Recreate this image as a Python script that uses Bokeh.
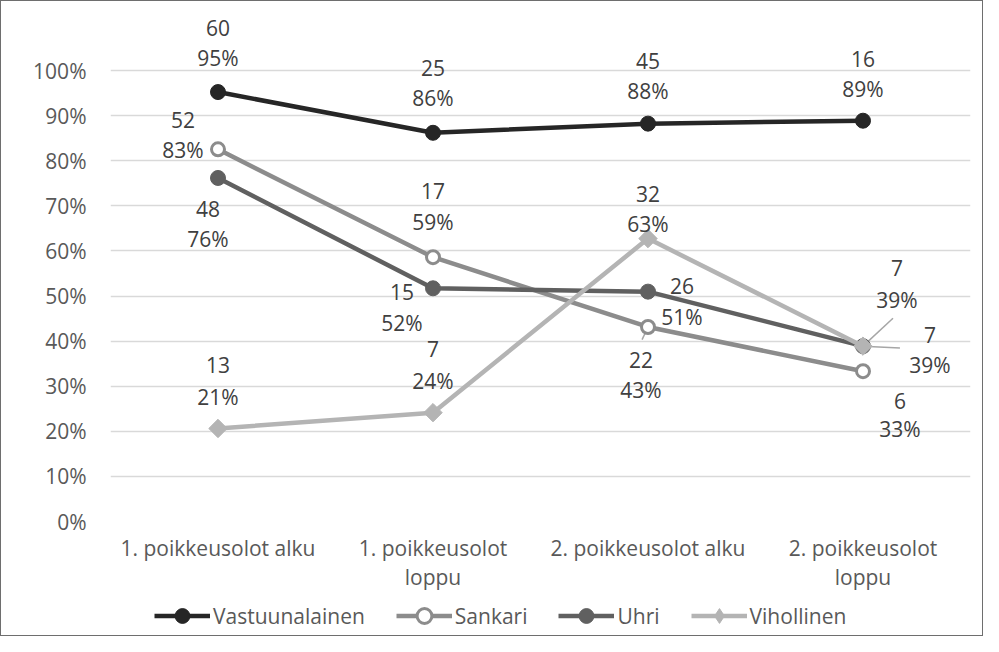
from bokeh.plotting import figure
from bokeh.models import (ColumnDataSource, FactorRange, Range1d, FixedTicker,
                          NumeralTickFormatter, Legend, LegendItem)
from bokeh.layouts import column
from bokeh.core.properties import value
from bokeh.embed import file_html
from bokeh.resources import INLINE
import math

# ---------------- data ----------------
categories = ["1. poikkeusolot alku", "1. poikkeusolot\nloppu",
              "2. poikkeusolot alku", "2. poikkeusolot\nloppu"]
series_names = ["Vastuunalainen", "Sankari", "Uhri", "Vihollinen"]

vastuunalainen_share = [0.9524, 0.8621, 0.8824, 0.8889]
sankari_share = [0.8254, 0.5862, 0.4314, 0.3333]
uhri_share = [0.7619, 0.5172, 0.5098, 0.3889]
vihollinen_share = [0.2063, 0.2414, 0.6275, 0.3889]

vastuunalainen_count = [60, 25, 45, 16]
sankari_count = [52, 17, 22, 6]
uhri_count = [48, 15, 26, 7]
vihollinen_count = [13, 7, 32, 7]

y_ticks = [0, 0.1, 0.2, 0.3, 0.4, 0.5, 0.6, 0.7, 0.8, 0.9, 1.0]

# ---------------- styles ----------------
FONT = "Open Sans"
FS = "21px"
TXT = "#595959"
LBL = "#404040"
colors = ["#262626", "#8c8c8c", "#606060", "#b4b4b4"]
W = 981
H_MAIN = 594
H_LEG = 40

# label offsets in screen px: (dx, dy for count, dy for percent)
label_offsets = [
    [(0, -64, -34), (0, -65, -35), (0, -63, -33), (0, -62, -32)],
    [(-35, -29, 1), (0, -66, -35), (-7, 33, 63), (37, 30, 58)],
    [(-10, 31, 61), (-31, 4, 35), (34, -6, 25), (67, -11, 19)],
    [(0, -63, -31), (0, -64, -32), (0, -45, -15), (34, -78, -46)],
]

p = figure(width=W, height=H_MAIN,
           x_range=FactorRange(*categories, range_padding=0),
           y_range=Range1d(0, 1.12),
           output_backend="svg", toolbar_location=None,
           min_border_left=109, min_border_right=12,
           min_border_top=15, min_border_bottom=H_MAIN - 520)
p.outline_line_color = None
p.background_fill_color = "white"
p.border_fill_color = "white"

p.xgrid.visible = False
p.ygrid.grid_line_color = "#d9d9d9"
p.ygrid.grid_line_width = 1.3

p.yaxis.ticker = FixedTicker(ticks=y_ticks)
p.yaxis.formatter = NumeralTickFormatter(format="0%")
for ax in (p.xaxis, p.yaxis):
    ax.axis_line_color = None
    ax.major_tick_line_color = None
    ax.minor_tick_line_color = None
    ax.major_label_text_font = FONT
    ax.major_label_text_font_size = FS
    ax.major_label_text_color = TXT
p.yaxis.major_label_standoff = 18
p.xaxis.major_label_standoff = 6
p.xaxis.major_label_text_line_height = 1.07
p.xaxis.major_label_orientation = "horizontal"

shares = [vastuunalainen_share, sankari_share, uhri_share, vihollinen_share]
counts = [vastuunalainen_count, sankari_count, uhri_count, vihollinen_count]

# leader lines (drawn first, below everything)
leaders = [  # (series index, point index, angle deg, length px)
    (1, 2, 245, 14),
    (3, 3, 43, 41),
    (2, 3, -3, 37),
]
for si, pi, ang, ln in leaders:
    p.ray(x=[categories[pi]], y=[shares[si][pi]], length=ln, length_units="screen",
          angle=ang, angle_units="deg", line_color="#a6a6a6", line_width=1.5)


def add_series(fig, i, src, legend_strip=False):
    ln = fig.line("x", "y", source=src, line_color=colors[i], line_width=4.5)
    if i == 1:
        mk = fig.scatter("x", "y", source=src, marker="circle", size=13,
                         fill_color="white", line_color=colors[i], line_width=3)
    elif i == 3:
        if legend_strip:
            mk = fig.scatter("x", "y", source=src, marker="diamond", size=18,
                             fill_color=colors[i], line_color=colors[i])
        else:
            mk = fig.scatter("x", "y", source=src, marker="square", size=13,
                             angle=math.pi / 4, fill_color=colors[i], line_color=colors[i])
    else:
        mk = fig.scatter("x", "y", source=src, marker="circle", size=15,
                         fill_color=colors[i], line_color=colors[i])
    return ln, mk


for i, name in enumerate(series_names):
    add_series(p, i, ColumnDataSource(dict(x=categories, y=shares[i])))

for i in range(4):
    offs = label_offsets[i]
    lsrc = ColumnDataSource(dict(
        x=categories, y=shares[i],
        cnt=[str(c) for c in counts[i]],
        pct=[f"{int(v * 100 + 0.5)}%" for v in shares[i]],
        dx=[o[0] for o in offs], dyc=[o[1] for o in offs], dyp=[o[2] for o in offs],
    ))
    for col, dy in (("cnt", "dyc"), ("pct", "dyp")):
        p.text("x", "y", text=col, x_offset="dx", y_offset=dy, source=lsrc,
               text_align="center", text_baseline="middle",
               text_font=value(FONT), text_font_size=FS, text_color=LBL)

# ---------------- legend strip ----------------
lf = figure(width=W, height=H_LEG, x_range=Range1d(0, 1), y_range=Range1d(0, 1),
            output_backend="svg", toolbar_location=None,
            x_axis_type=None, y_axis_type=None,
            min_border_left=109, min_border_right=12, min_border_top=0, min_border_bottom=0)
lf.outline_line_color = None
lf.xgrid.visible = False
lf.ygrid.visible = False
items = []
for i, name in enumerate(series_names):
    # points outside the visible range, so only the legend swatch shows
    ln, mk = add_series(lf, i, ColumnDataSource(dict(x=[-5, -4], y=[-5, -5])), True)
    items.append(LegendItem(label=name, renderers=[ln, mk]))
legend = Legend(items=items, orientation="horizontal", location=(44, 1),
                glyph_width=56, glyph_height=37, label_standoff=3, spacing=31,
                padding=0, margin=0, border_line_color=None, background_fill_alpha=0,
                label_text_font=FONT, label_text_font_size=FS, label_text_color=TXT)
lf.add_layout(legend)

layout = column(p, lf, spacing=0)
layout.styles = {"border": "1px solid #6e6e6e"}

open("out.html", "w").write(file_html(layout, INLINE))
